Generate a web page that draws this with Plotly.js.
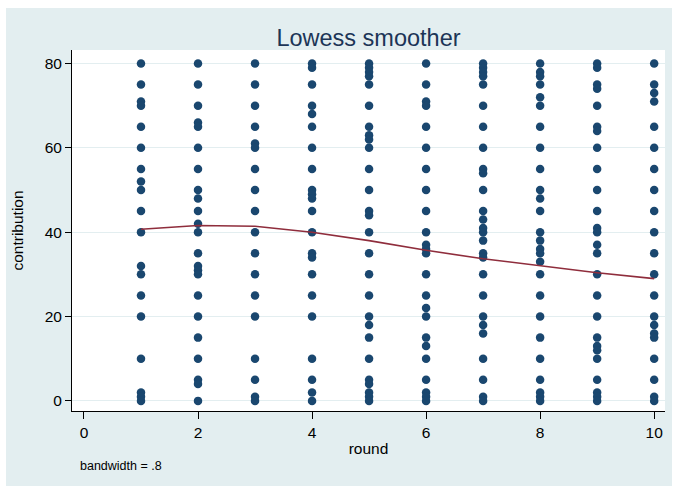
<!DOCTYPE html>
<html>
<head>
<meta charset="utf-8">
<script src="https://cdn.plot.ly/plotly-3.0.1.min.js"></script>
<style>
html,body{margin:0;padding:0;background:#ffffff;width:675px;height:492px;overflow:hidden;}
#chart{position:absolute;left:6px;top:8px;width:666px;height:478px;}
</style>
</head>
<body>
<div id="chart"></div>
<script>
const rounds = [1,2,3,4,5,6,7,8,9,10];
const r1 = [80,75,71,70,65,60,55,52,50,45,40,32,30,25,20,10,2,1,0];
const r2 = [80,75,70,66,65,60,55,50,48,45,42,40,35,32,31,30,25,20,15,10,5,4,0];
const r3 = [80,75,70,65,61,60,55,50,45,40,35,30,25,20,10,5,1,0];
const r4 = [80,79,75,70,68,65,60,55,50,49,48,45,40,35,34,30,25,20,10,5,2,0];
const r5 = [80,79,78,77,75,70,65,63,62,60,55,50,45,44,40,35,30,25,20,18,15,10,5,4,2,1,0];
const r6 = [80,75,71,70,65,60,55,50,45,40,37,36,35,30,25,22,20,15,13,10,5,2,1,0];
const r7 = [80,79,78,77,75,70,65,60,55,54,50,45,43,41,40,38,35,34,30,25,20,18,16,10,5,1,0];
const r8 = [80,78,77,75,72,70,65,60,55,50,48,45,40,38,36,35,33,30,25,20,15,10,5,2,1,0];
const r9 = [80,79,75,74,70,65,64,60,55,50,45,41,40,37,35,30,25,20,15,13,12,10,5,2,1,0];
const r10 = [80,75,73,71,65,60,55,50,45,40,35,30,25,20,18,16,15,10,5,1,0];
const contributions = [r1,r2,r3,r4,r5,r6,r7,r8,r9,r10];
const lowessY = [40.7,41.6,41.4,40.0,38.0,35.7,33.7,32.0,30.4,29.0];
const xTicks = [0,2,4,6,8,10];
const yTicks = [0,20,40,60,80];

const px = [], py = [];
contributions.forEach((vals, i) => {
  vals.forEach(v => { px.push(rounds[i]); py.push(v); });
});

const font = 'Liberation Sans, Arial, sans-serif';

const traces = [
  {
    x: px, y: py, type: 'scatter', mode: 'markers',
    marker: {color: '#1a476f', size: 8.5, line: {width: 0}},
    hoverinfo: 'skip', showlegend: false
  },
  {
    x: rounds, y: lowessY, type: 'scatter', mode: 'lines',
    line: {color: '#8f2d3c', width: 1.6},
    hoverinfo: 'skip', showlegend: false
  }
];

const layout = {
  width: 666, height: 478,
  paper_bgcolor: '#e3eef0',
  plot_bgcolor: '#ffffff',
  margin: {l: 66, r: 7, t: 42, b: 75},
  font: {family: font, color: '#000000', size: 15},
  title: {
    text: 'Lowess smoother',
    font: {family: font, size: 23.5, color: '#1c3557'},
    x: 0.5, xref: 'paper', xanchor: 'center',
    y: 1, yref: 'paper', yanchor: 'bottom', pad: {b: 4}
  },
  xaxis: {
    range: [-0.21, 10.19],
    tickvals: xTicks,
    ticks: 'outside', ticklen: 7, tickwidth: 1, tickcolor: '#000',
    showline: true, linecolor: '#000', linewidth: 1,
    showgrid: false, zeroline: false,
    tickfont: {family: font, size: 15.5},
    title: {text: 'round', font: {family: font, size: 15.5}, standoff: 3}
  },
  yaxis: {
    range: [-2.4, 83.2],
    tickvals: yTicks,
    ticks: 'outside', ticklen: 6, tickwidth: 1, tickcolor: '#000',
    showline: true, linecolor: '#000', linewidth: 1,
    showgrid: true, gridcolor: '#e3eef0', gridwidth: 1,
    zeroline: false,
    tickfont: {family: font, size: 15.5},
    title: {text: 'contribution', font: {family: font, size: 15.5}, standoff: 17}
  },
  annotations: [
    {
      text: 'bandwidth = .8', xref: 'paper', yref: 'paper',
      x: 0.01, y: -0.153, xanchor: 'left', yanchor: 'middle',
      showarrow: false, font: {family: font, size: 12.5, color: '#000'}
    }
  ]
};

Plotly.newPlot('chart', traces, layout, {staticPlot: true, displayModeBar: false});
</script>
</body>
</html>
